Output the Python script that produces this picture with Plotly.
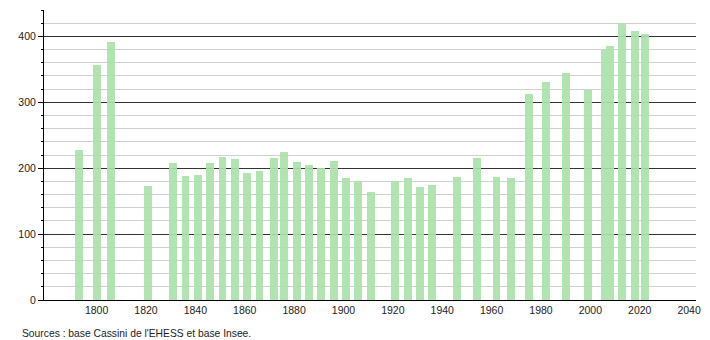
import plotly.graph_objects as go

years = [1793, 1800, 1806, 1821, 1831, 1836, 1841, 1846, 1851, 1856,
         1861, 1866, 1872, 1876, 1881, 1886, 1891, 1896, 1901, 1906,
         1911, 1921, 1926, 1931, 1936, 1946, 1954, 1962, 1968, 1975,
         1982, 1990, 1999, 2006, 2008, 2013, 2018, 2022]
population = [228, 356, 392, 173, 208, 188, 190, 208, 217, 214,
              192, 195, 216, 224, 210, 205, 201, 211, 185, 181,
              164, 181, 185, 171, 175, 187, 216, 187, 185, 313,
              331, 345, 319, 380, 386, 420, 408, 404]
x_ticks = [1800, 1820, 1840, 1860, 1880, 1900, 1920, 1940, 1960, 1980, 2000, 2020, 2040]
y_ticks = [0, 100, 200, 300, 400]
source = "Sources : base Cassini de l'EHESS et base Insee."

fig = go.Figure()
fig.add_trace(go.Bar(
    x=years, y=population, width=3.2,
    marker=dict(color="rgb(172,226,172)", line=dict(width=0)),
    opacity=0.92,
    hoverinfo="x+y",
))

fig.update_layout(
    width=710, height=340,
    margin=dict(l=44, r=9, t=10, b=40),
    plot_bgcolor="white", paper_bgcolor="white",
    font=dict(family="Liberation Sans, Arial, sans-serif", size=10.5, color="#222"),
    showlegend=False,
    bargap=0,
    xaxis=dict(
        range=[1778.7, 2042.8],
        tickvals=x_ticks, ticktext=[str(t) for t in x_ticks],
        showgrid=False, zeroline=False,
        showline=True, linecolor="black", linewidth=1,
        ticks="", ticklen=0,
        tickfont=dict(size=10.5, color="#222"),
    ),
    yaxis=dict(
        range=[0, 440],
        tickvals=y_ticks,
        showgrid=True, gridcolor="#333", gridwidth=1,
        zeroline=False,
        showline=True, linecolor="black", linewidth=1,
        ticks="outside", ticklen=5, tickcolor="black",
        tickfont=dict(size=10.5, color="#222"),
        minor=dict(dtick=20, tick0=0, showgrid=True, gridcolor="#d0d0d0",
                   gridwidth=1, ticks="outside", ticklen=2, tickcolor="black"),
    ),
    annotations=[dict(
        text=source, xref="paper", yref="paper",
        x=-44/657, y=-0.115, xanchor="left", yanchor="middle",
        xshift=20, showarrow=False,
        font=dict(size=10.3, color="#222"),
    )],
)

fig.write_html("out.html")
